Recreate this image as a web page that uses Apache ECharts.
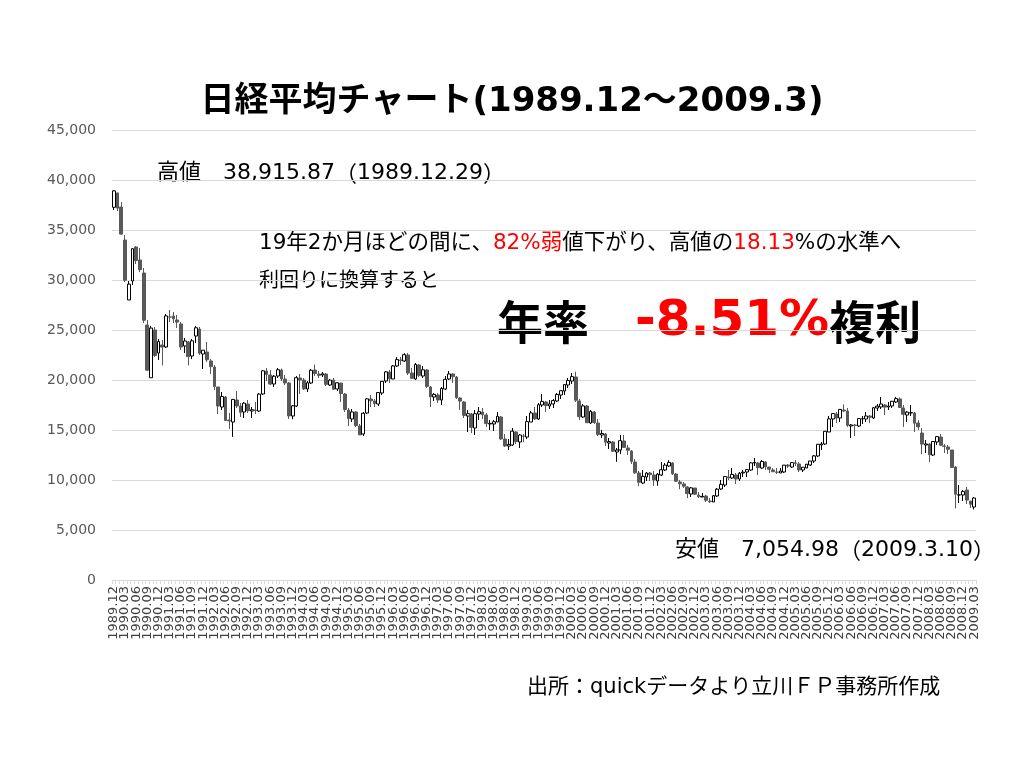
<!DOCTYPE html>
<html><head><meta charset="utf-8">
<script src="https://cdn.jsdelivr.net/npm/echarts@6/dist/echarts.min.js"></script>
<style>html,body{margin:0;padding:0;background:#fff}#c{width:1024px;height:768px}</style>
</head><body><div id="c"></div>
<script>
// Monthly categories 1989.12 - 2009.03
const categories = [];
(function(){ let y = 1989, m = 12; while (y < 2009 || (y === 2009 && m <= 3)) { categories.push(y + '.' + String(m).padStart(2,'0')); m++; if (m > 12) { m = 1; y++; } } })();

const openPrice = [].concat(
  [37270],
  [38712,37300,34000,28002,29900,33300,32000,30700,25500,20222,25000,22700],
  [23500,23300,26300,26400,26000,25600,23400,23800,22400,24400,25100,22600],
  [22800,21900,21300,19300,17300,18300,16000,15800,18000,17400,16800,17600],
  [16900,17000,16900,18600,20900,20500,19600,20400,21000,20100,19700,16400],
  [17400,20200,20000,19100,19700,21000,20600,20500,20600,19500,20000,19100],
  [19700,18600,17000,16100,16800,15400,14600,16700,18100,17900,17600,18700],
  [19900,20800,20100,21400,22000,21900,22500,20700,20100,21500,20400,21000],
  [19300,18300,18500,18000,19100,20100,20600,20300,18200,17800,16400,16600],
  [15200,16600,16800,16500,15600,15600,15800,16300,14100,13400,13500,14800],
  [13800,14400,14300,15800,16700,16100,17500,17800,17400,17600,17900,18500],
  [18900,19500,19900,20300,17900,16300,17400,15700,16800,15700,14500,14600],
  [13700,13800,12800,13000,13900,13200,12900,11800,10700,9700,10300,10700],
  [10500,9900,10500,11000,11400,11700,10600,9800,9600,9300,8600,9200],
  [8500,8300,8400,7900,7800,8400,9100,9500,10300,10200,10500,10100],
  [10700,10800,11000,11700,11700,11200,11800,11300,11000,10800,10700,10800],
  [11500,11300,11700,11600,11000,11200,11500,11900,12400,13500,13600,14800],
  [16100,16600,16200,17000,16900,15400,15500,15400,16100,16100,16400,16200],
  [17200,17300,17500,17300,17400,17800,18100,17200,16500,16700,16700,15700],
  [14700,13500,13600,12500,13800,14300,13400,13300,13000,11300,8500,8500],
  [9000,7900,7300]
);
const closePrice = [].concat(
  [38916],
  [37189,34592,29980,29585,33130,31940,31035,25978,20984,25194,22454,23849],
  [23293,26409,26292,26111,25790,23291,23900,22335,23916,25222,22687,22984],
  [22023,21339,19346,17391,18348,15952,15910,18061,17399,16767,17684,16925],
  [17023,16953,18591,20919,20552,19590,20380,21027,20106,19703,16408,17417],
  [20229,19997,19112,19725,20974,20644,20462,20629,19564,19990,19076,19723],
  [18650,17053,16140,16807,15437,14517,16678,18117,17913,17655,18744,19868],
  [20813,20125,21407,22041,21956,22530,20693,20167,21556,20467,21020,19361],
  [18330,18557,18003,19151,20069,20604,20331,18229,17888,16458,16636,15259],
  [16628,16832,16527,15641,15671,15830,16379,14108,13406,13564,14883,13842],
  [14499,14368,15837,16702,16112,17530,17862,17437,17605,17942,18558,18934],
  [19540,19960,20337,17974,16332,17411,15727,16861,15747,14539,14649,13786],
  [13843,12884,12999,13934,13262,12969,11860,10713,9774,10366,10697,10543],
  [9997,10587,11024,11492,11763,10621,9877,9619,9383,8640,9215,8579],
  [8339,8363,7972,7831,8425,9083,9563,10343,10219,10560,10101,10677],
  [10784,11042,11715,11762,11236,11858,11326,11082,10824,10771,10899,11489],
  [11388,11740,11668,11009,11277,11584,11900,12414,13574,13607,14872,16111],
  [16650,16206,17060,16906,15468,15505,15457,16141,16128,16399,16274,17226],
  [17383,17604,17288,17400,17876,18138,17249,16569,16786,16738,15681,15308],
  [13592,13604,12526,13850,14339,13481,13377,13073,11260,8577,8512,8860],
  [7994,7568,8200]
);
const lowPrice = [].concat(
  [37000],
  [36900,34500,29800,28002,29500,31600,30800,25700,20900,20222,22300,22000],
  [21456,23200,25800,25700,25200,23000,22700,21456,22100,23700,22500,21100],
  [21800,20600,19000,16600,17000,15900,15100,14309,17200,16300,16200,16700],
  [16200,16600,16800,18500,19900,19500,19300,20200,19900,19500,16100,16078],
  [17300,18600,19000,18800,19600,20400,20200,20300,19400,19400,19000,18900],
  [17800,16800,15400,15800,15300,14485,14400,16600,17300,17300,17400,18500],
  [19700,19700,20100,21300,21500,21800,20500,20100,20000,20300,20200,19200],
  [17300,17900,17700,17500,19000,20000,19700,18100,17000,16200,14800,14700],
  [14500,16000,16100,15300,15000,14900,15800,14000,13300,13000,13400,13600],
  [13200,13800,14100,15800,16000,16000,17300,16800,17100,17200,17800,18100],
  [18500,19200,19600,17800,16000,16200,15700,15600,15600,14400,14200,13400],
  [13100,12800,11819,12600,13200,12500,11600,10600,9382,9600,9900,9900],
  [9400,9420,10400,10900,11300,10500,9800,9075,9200,8197,8300,8500],
  [8200,8300,7800,7700,7800,8300,9000,9300,10000,10100,9600,9900],
  [10300,10300,10900,11400,10500,11100,11000,10700,10800,10600,10700,10700],
  [11200,11200,11400,10800,10800,11200,11400,11700,12300,13000,13500,14800],
  [15300,15700,15800,16800,15300,14200,14400,15300,15600,15800,15700,16100],
  [16900,17100,16500,17000,17200,17700,17200,15300,15800,16400,14800,15000],
  [12573,12700,11787,12400,13500,13400,12700,12600,11200,7163,7700,7900],
  [7600,7200,7055]
);
const highPrice = [].concat(
  [38957],
  [38712,37800,34500,29900,33200,33400,33200,31200,26000,25400,25300,24100],
  [24000,26600,27000,26800,26500,25800,24200,23900,24100,25400,25300,23000],
  [23800,22100,21500,19300,18800,18400,16700,18100,18900,17700,17800,18000],
  [17300,17800,18700,21000,21200,21000,20500,21200,21148,20500,19800,17500],
  [20400,20600,20200,19900,21100,21552,20900,20800,20700,20100,20200,19800],
  [19700,18700,17200,17100,16900,15600,16800,18200,18500,18100,18800,19900],
  [20900,21000,21500,22300,22300,22666,22700,21200,21700,21600,21400,21100],
  [19400,18700,18700,19300,20400,20900,20700,20400,18300,17900,17000,16700],
  [17000,17300,17200,16700,16000,16000,16800,16400,14600,14100,15200,14900],
  [14600,14600,16400,16900,17300,17700,18600,17900,18000,18100,18700,18950],
  [19600,20200,20700,20833,18100,17600,17500,17000,16900,16100,15000,14700],
  [14200,13900,13200,14500,14500,13500,13000,12100,10900,11000,10800,10800],
  [10900,10700,11800,11700,11980,11800,10700,10000,9800,9400,9300,9200],
  [8800,8700,8500,8200,8500,9200,10000,10400,11000,11200,10700,10800],
  [11000,11100,11800,12200,11800,12000,11900,11300,11200,11200,11200,11500],
  [11600,11800,12000,11800,11300,11600,11900,12500,13600,13800,14900,16400],
  [16700,16800,17100,17563,17200,15600,15600,16200,16400,16800,16500,17300],
  [17600,18300,17600,17800,17900,18300,18262,17500,16900,17500,16800,16000],
  [15200,14000,13700,13900,14400,14600,13600,13500,13000,11400,9500,9000],
  [9300,7900,8300]
);

const candleData = categories.map((c, i) => [openPrice[i], closePrice[i], lowPrice[i], highPrice[i]]);

const chart = echarts.init(document.getElementById('c'), null, {renderer: 'canvas'});
const jp = "'DejaVu Sans','Noto Sans CJK JP',sans-serif";
const cjk = "'Noto Sans CJK JP',sans-serif";
chart.setOption({
  backgroundColor: '#ffffff',
  animation: false,
  title: {
    text: '日経平均チャート(1989.12～2009.3)',
    left: 'center', top: 80,
    textStyle: {fontSize: 34, fontWeight: 'bold', color: '#000', fontFamily: jp}
  },
  grid: {left: 112, right: 48, top: 130, bottom: 188},
  xAxis: {
    type: 'category', data: categories, boundaryGap: true,
    axisLine: {show: true, lineStyle: {color: '#d9d9d9'}},
    axisTick: {show: true, interval: 0, length: 4, lineStyle: {color: '#d9d9d9'}},
    axisLabel: {interval: 0, rotate: 90, fontSize: 13, color: '#404040', margin: 6,
      hideOverlap: false,
      formatter: (v, i) => (i % 3 === 0 ? v : ''),
      fontFamily: "'DejaVu Sans',sans-serif"},
    splitLine: {show: false}
  },
  yAxis: {
    type: 'value', min: 0, max: 45000, interval: 5000,
    axisLine: {show: false}, axisTick: {show: false},
    axisLabel: {fontSize: 14, color: '#595959', margin: 16, fontFamily: "'DejaVu Sans',sans-serif",
      formatter: v => String(v).replace(/\B(?=(\d{3})+(?!\d))/g, ',')},
    splitLine: {lineStyle: {color: '#d9d9d9', width: 1}}
  },
  series: [{
    type: 'candlestick', data: candleData, barWidth: '88%',
    itemStyle: {color: '#ffffff', color0: '#595959', borderColor: '#000000', borderColor0: '#595959', borderWidth: 1}
  }],
  graphic: [
    {type: 'text', left: 157, top: 162, style: {
      text: '高値　38,915.87{p|（}1989.12.29{p|）}', font: "22px " + jp, fill: '#000',
      rich: {p: {font: "22px " + cjk, fill: '#000'}}
    }},
    {type: 'text', left: 259, top: 233, style: {
      text: '19年2か月ほどの間に、{r|82%弱}値下がり、高値の{r|18.13}%の水準へ',
      font: "21.5px " + jp, fill: '#000',
      rich: {r: {fill: '#ff0000', font: "21.5px " + jp}}
    }},
    {type: 'text', left: 259, top: 272, style: {text: '利回りに換算すると', font: "20px " + jp, fill: '#000'}},
    {type: 'text', left: 497, top: 297, style: {
      text: '年率　{r|-8.51%}複利',
      font: "bold 46px " + cjk, fill: '#000',
      rich: {r: {fill: '#ff0000', font: "bold 50px 'DejaVu Sans','Noto Sans CJK JP',sans-serif"}}
    }},
    {type: 'text', left: 675, top: 539, style: {
      text: '安値　7,054.98{p|（}2009.3.10{p|）}', font: "22px " + jp, fill: '#000',
      rich: {p: {font: "22px " + cjk, fill: '#000'}}
    }},
    {type: 'text', left: 527, top: 677, style: {text: '出所：quickデータより立川ＦＰ事務所作成', font: "21px " + jp, fill: '#000'}}
  ]
});
</script>
</body></html>
